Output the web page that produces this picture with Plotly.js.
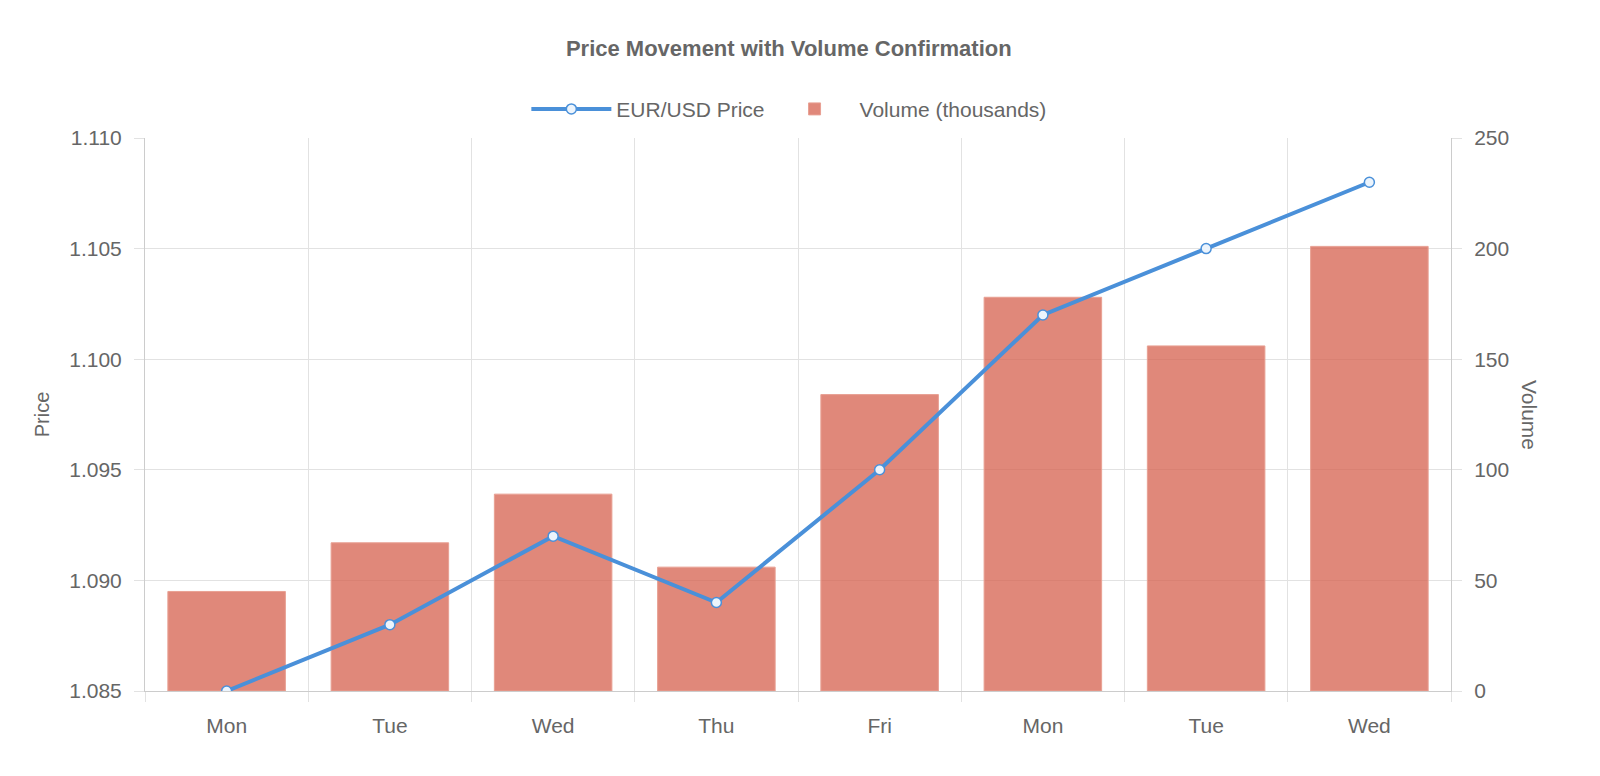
<!DOCTYPE html>
<html>
<head>
<meta charset="utf-8">
<script src="https://cdn.plot.ly/plotly-3.0.1.min.js"></script>
<style>
    html, body { margin: 0; padding: 0; background: #fff; overflow: hidden; }
    #priceVolumeChart { width: 1600px; height: 776px; }
</style>
</head>
<body>
<div id="priceVolumeChart"></div>
<script>
// days repeat across the two weeks, so plot on index positions
const dayLabels = ["Mon", "Tue", "Wed", "Thu", "Fri", "Mon", "Tue", "Wed"];
const priceValues = [1.085, 1.088, 1.092, 1.089, 1.095, 1.102, 1.105, 1.108];
const volumeValues = [45, 67, 89, 56, 134, 178, 156, 201];

const FONT_FAMILY = '"Liberation Sans", Arial, Helvetica, sans-serif';
const TEXT_COLOUR = "#666666";
const GRID_COLOUR = "#e2e2e2";
const AXIS_COLOUR = "#cccccc";
const PRICE_COLOUR = "#4a90d9";
const VOLUME_COLOUR = "rgba(214, 96, 77, 0.75)";

const positions = dayLabels.map((_, i) => i);
const boundaries = [...positions.map((p) => p - 0.5), positions.length - 0.5];

const priceTrace = {
    x: positions,
    y: priceValues,
    name: "EUR/USD Price",
    type: "scatter",
    mode: "lines+markers",
    yaxis: "y2",
    line: { color: PRICE_COLOUR, width: 4 },
    marker: {
        size: 10,
        color: "rgba(236,244,252,1)",
        line: { color: PRICE_COLOUR, width: 1.5 }
    },
    hoverinfo: "y"
};

const volumeTrace = {
    x: positions,
    y: volumeValues,
    name: "Volume (thousands)",
    type: "bar",
    yaxis: "y",
    width: 0.72,
    marker: {
        color: VOLUME_COLOUR,
        line: { color: "rgba(232, 160, 147, 1)", width: 1 }
    },
    hoverinfo: "y"
};

const tickFont = { size: 21, color: TEXT_COLOUR };

const layout = {
    width: 1600,
    height: 776,
    paper_bgcolor: "#ffffff",
    plot_bgcolor: "#ffffff",
    font: { family: FONT_FAMILY, color: TEXT_COLOUR, size: 18 },
    margin: { l: 145, r: 149, t: 138, b: 85 },
    showlegend: true,
    legend: {
        orientation: "h",
        x: 0.493,
        xanchor: "center",
        y: 1.052,
        yanchor: "middle",
        font: { size: 21, color: TEXT_COLOUR },
        traceorder: "normal",
        itemwidth: 80
    },
    title: {
        text: "<b>Price Movement with Volume Confirmation</b>",
        xref: "container",
        yref: "container",
        x: 0.493,
        xanchor: "center",
        y: 1 - 48 / 776,
        yanchor: "middle",
        font: { size: 22, color: TEXT_COLOUR }
    },
    xaxis: {
        range: [-0.5, positions.length - 0.5],
        tickmode: "array",
        tickvals: positions,
        ticktext: dayLabels,
        showgrid: false,
        zeroline: false,
        showline: true,
        linecolor: AXIS_COLOUR,
        ticks: "",
        ticklabelstandoff: 16,
        tickfont: tickFont,
        minor: {
            tickmode: "array",
            tickvals: boundaries,
            showgrid: true,
            gridcolor: GRID_COLOUR,
            gridwidth: 1,
            ticks: "outside",
            ticklen: 10,
            tickcolor: GRID_COLOUR
        },
        fixedrange: true
    },
    // volume is the base axis so its grid sits under the bars
    yaxis: {
        range: [0, 250],
        tickmode: "linear",
        tick0: 0,
        dtick: 50,
        side: "right",
        showgrid: true,
        gridcolor: GRID_COLOUR,
        zeroline: false,
        showline: true,
        linecolor: AXIS_COLOUR,
        ticks: "outside",
        ticklen: 10,
        tickcolor: GRID_COLOUR,
        ticklabelstandoff: 8,
        tickfont: tickFont,
        fixedrange: true
    },
    yaxis2: {
        range: [1.085, 1.110],
        tickmode: "linear",
        tick0: 1.085,
        dtick: 0.005,
        tickformat: ".3f",
        overlaying: "y",
        side: "left",
        showgrid: false,
        zeroline: false,
        showline: true,
        linecolor: AXIS_COLOUR,
        ticks: "outside",
        ticklen: 10,
        tickcolor: GRID_COLOUR,
        ticklabelstandoff: 8,
        tickfont: tickFont,
        title: { text: "Price", font: { size: 20, color: TEXT_COLOUR }, standoff: 14 },
        fixedrange: true
    },
    annotations: [{
        // right-hand title reads top to bottom, as in the original
        text: "Volume",
        xref: "paper",
        yref: "paper",
        x: 1,
        xshift: 92,
        y: 0.5,
        showarrow: false,
        textangle: 90,
        font: { size: 21, color: TEXT_COLOUR }
    }]
};

Plotly.newPlot("priceVolumeChart", [priceTrace, volumeTrace], layout, { displayModeBar: false, responsive: false });
</script>
</body>
</html>
